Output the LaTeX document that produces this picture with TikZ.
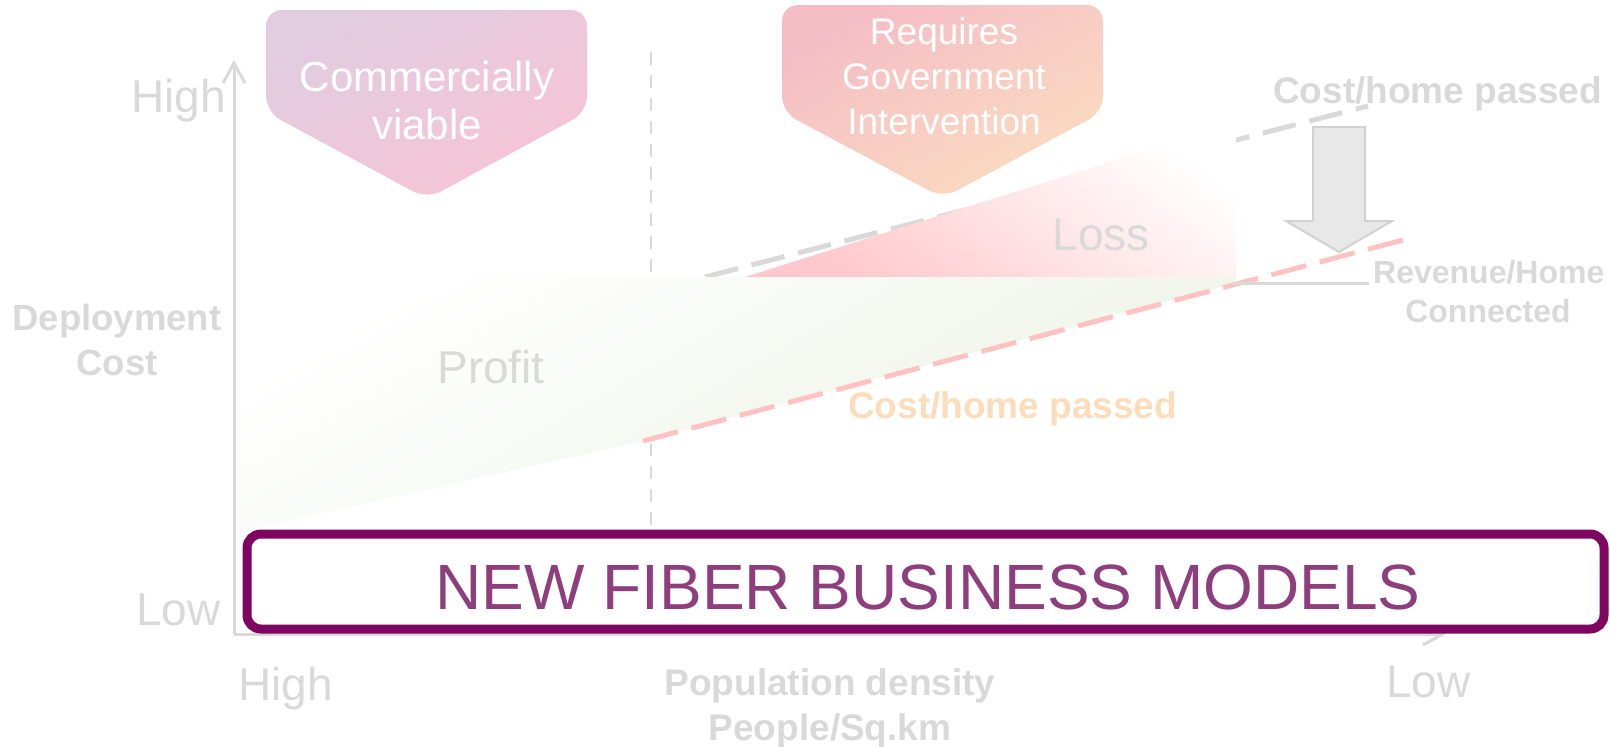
\documentclass[tikz,border=0pt]{standalone}
\usepackage{fontspec}
\setmainfont{Liberation Sans}
\usetikzlibrary{arrows.meta}
\definecolor{txtgray}{HTML}{D9D9D9}
\definecolor{axisgray}{HTML}{D9D9D9}
\definecolor{pinkdash}{HTML}{FFC2C2}
\definecolor{orangetxt}{HTML}{FBDDBB}
\definecolor{boxpurple}{HTML}{7E0660}
\definecolor{purpletxt}{HTML}{8E3E7C}
\definecolor{arrowfill}{HTML}{E8E8E8}
\definecolor{arrowdraw}{HTML}{D2D2D2}
\definecolor{lavender}{HTML}{E2CCE0}
\definecolor{pinkA}{HTML}{F6C4D5}
\definecolor{pinkB}{HTML}{F5BDC5}
\definecolor{peachB}{HTML}{FADCC0}
\definecolor{losspink}{HTML}{FFC8CC}
\definecolor{profitgreen}{HTML}{ECF2E4}
\begin{document}
\begin{tikzpicture}[x=1pt,y=-1pt,
  axisline/.style={draw=axisgray, line width=3pt},
  vdashline/.style={draw=axisgray, line width=2pt, dash pattern=on 13pt off 10pt},
  graydashline/.style={draw=axisgray, line width=5pt, dash pattern=on 34pt off 14pt},
  pinkdashline/.style={draw=pinkdash, line width=5pt, dash pattern=on 36pt off 14pt},
  lbl/.style={inner sep=0pt, text=txtgray},
  bigfont/.style={font=\fontsize{46}{50}\selectfont},
  boldlbl/.style={font=\bfseries\fontsize{37}{42}\selectfont},
  wtxt/.style={inner sep=0pt, text=white},
  barb/.style={-{Straight Barb[length=20pt,width=22pt]}}]
\useasboundingbox (0,0) rectangle (1610,747);

% coordinates
\coordinate (ybot) at (234,634);
\coordinate (ytop) at (234,60);
\coordinate (xend) at (1446,634);
\coordinate (vtop) at (651,52);
\coordinate (vbot) at (651,528);
\coordinate (gA) at (705,277);
\coordinate (gB) at (1368,106);
\coordinate (pA) at (643,441);
\coordinate (pB) at (1403,240);
\coordinate (rA) at (1232,283);
\coordinate (rB) at (1369,283);

% axes
\draw[axisline, barb] (ybot) -- (ytop);
\draw[axisline, barb] (ybot) -- (xend);

% vertical dashed separator
\draw[vdashline] (vtop) -- (vbot);

% upper cost line
\draw[graydashline] (gA) -- (gB);

% loss area
\shade[top color=white, bottom color=losspink, shading angle=-35]
  (745,277) -- (1236,122) -- (1236,277) -- cycle;

% profit area
\shade[top color=white, bottom color=profitgreen, shading angle=30]
  (239,277) -- (1236,277) -- (1236,283) -- (pA) -- (239,532) -- cycle;

% lower cost line
\draw[pinkdashline] (pA) -- (pB);

% revenue line
\draw[axisline] (rA) -- (rB);

% down block arrow
\draw[fill=arrowfill, draw=arrowdraw, line width=2pt]
  (1313,127) -- (1365,127) -- (1365,221) -- (1392,221) -- (1339,252)
  -- (1286,221) -- (1313,221) -- cycle;

% pentagon banners
\shade[top color=lavender, bottom color=pinkA, shading angle=30, rounded corners=16pt]
  (266,10) -- (587,10) -- (587,112) -- (427,199) -- (266,112) -- cycle;
\shade[top color=pinkB, bottom color=peachB, shading angle=30, rounded corners=16pt]
  (782,5) -- (1103,5) -- (1103,112) -- (943,198) -- (782,112) -- cycle;

\node[wtxt, anchor=base, font=\fontsize{42}{48}\selectfont] (comm1) at (427,91) {Commercially};
\node[wtxt, anchor=base, font=\fontsize{42}{48}\selectfont] (comm2) at (427,139) {viable};
\node[wtxt, anchor=base, font=\fontsize{37}{45}\selectfont] (req1) at (944,44) {Requires};
\node[wtxt, anchor=base, font=\fontsize{37}{45}\selectfont] (req2) at (944,89) {Government};
\node[wtxt, anchor=base, font=\fontsize{37}{45}\selectfont] (req3) at (944,134) {Intervention};

% axis labels
\node[lbl, bigfont, anchor=base east] (yhigh) at (226,112) {High};
\node[lbl, bigfont, anchor=base east] (ylow) at (221,625) {Low};
\node[lbl, bigfont, anchor=base west] (xhigh) at (238,700) {High};
\node[lbl, bigfont, anchor=base west] (xlow) at (1386,697) {Low};
\node[lbl, font=\bfseries\fontsize{36.5}{45}\selectfont, anchor=base] (dep1) at (117,330) {Deployment};
\node[lbl, font=\bfseries\fontsize{36.5}{45}\selectfont, anchor=base] (dep2) at (117,375) {Cost};
\node[lbl, boldlbl, anchor=base] (pop1) at (830,695) {Population density};
\node[lbl, boldlbl, anchor=base] (pop2) at (830,740) {People/Sq.km};

% region labels
\node[lbl, bigfont, anchor=base] (loss) at (1101,250) {Loss};
\node[lbl, bigfont, anchor=base] (profit) at (491,383) {Profit};

% line labels
\node[lbl, font=\bfseries\fontsize{37}{42}\selectfont, anchor=base west] (costtop) at (1273,103) {Cost/home passed};
\node[inner sep=0pt, text=orangetxt, font=\bfseries\fontsize{37}{42}\selectfont, anchor=base west] (costlow) at (848,418) {Cost/home passed};
\node[lbl, font=\bfseries\fontsize{32}{38}\selectfont, anchor=base west] (rev1) at (1373,283) {Revenue/Home};
\node[lbl, font=\bfseries\fontsize{32}{38}\selectfont, anchor=base] (rev2) at (1488,322) {Connected};

% bottom banner
\node[draw=boxpurple, line width=9pt, rounded corners=14pt, fill=white,
  minimum width=1357pt, minimum height=95pt, inner sep=0pt] (box) at (925.5,581.5) {};
\node[inner sep=0pt, text=purpletxt, font=\fontsize{64}{70}\selectfont, anchor=base] (boxtxt) at (928,609) {NEW FIBER BUSINESS MODELS};
\end{tikzpicture}
\end{document}
